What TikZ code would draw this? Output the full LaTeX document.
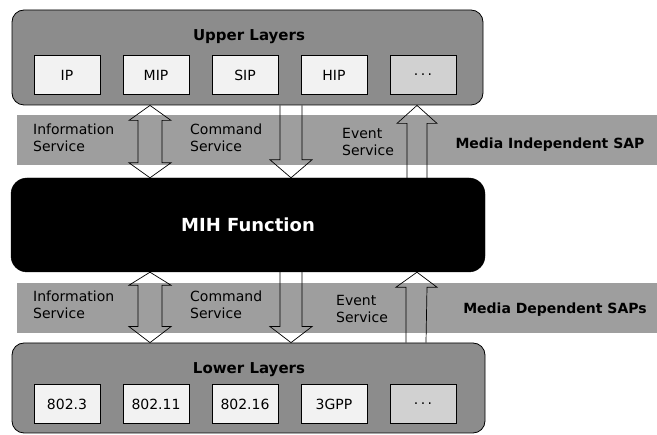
\documentclass[tikz,border=0pt]{standalone}
\usepackage{fontspec}
\setmainfont{DejaVu Sans}
\usetikzlibrary{calc,positioning}

\begin{document}
\begin{tikzpicture}[x=1pt,y=-1pt,node distance=89pt,
    layer/.style={draw,line width=0.8pt,rounded corners=12pt,fill=black!45},
    proto/.style={draw,line width=0.6pt,fill=black!5,minimum width=66pt,minimum height=39pt,
      font=\fontsize{14}{16}\selectfont},
    sap/.style={fill=black!38,minimum width=640pt,minimum height=50pt,inner sep=0pt},
    svc/.style={align=left,anchor=west,inner sep=0pt,font=\fontsize{14}{17}\selectfont},
    title/.style={font=\bfseries\fontsize{15}{18}\selectfont},
    saptitle/.style={font=\bfseries\fontsize{14}{16}\selectfont},
    blockarrow/.style={draw,line width=0.7pt}]
    \useasboundingbox (0,0) rectangle (657,435);

    \node (sapU) [sap] at (337,140) {};
    \node (sapL) [sap] at (337,308) {};

    \node (upper) [layer,minimum width=471pt,minimum height=95pt] at (247.5,57.5) {};
    \node (upperT) [title] at (249,37) {Upper Layers};
    \node (ip) [proto] at (67,75) {IP};
    \node (mip) [proto,right of=ip] {MIP};
    \node (sip) [proto,right of=mip] {SIP};
    \node (hip) [proto,right of=sip] {HIP};
    \node (more) [proto,right of=hip,fill=black!18] {.\,.\,.};

    \node (mih) [draw,fill=black,rounded corners=16pt,minimum width=474pt,minimum height=94pt,
      text=white,font=\bfseries\fontsize{18}{22}\selectfont] at (248,225) {MIH Function};

    \node (lower) [layer,minimum width=473pt,minimum height=90pt] at (248.5,388) {};
    \node (lowerT) [title] at (249,370) {Lower Layers};
    \node (e3) [proto] at (67,404) {802.3};
    \node (e11) [proto,right of=e3] {802.11};
    \node (e16) [proto,right of=e11] {802.16};
    \node (gpp) [proto,right of=e16] {3GPP};
    \node (etc) [proto,right of=gpp,fill=black!18] {.\,.\,.};

    \node (infoU) [svc] at (33,138) {Information\\Service};
    \node (cmdU) [svc] at (190,138) {Command\\Service};
    \node (evtU) [svc] at (342,142) {Event\\Service};
    \node (indep) [saptitle] at (550,145) {Media Independent SAP};
    \node (infoL) [svc] at (33,305) {Information\\Service};
    \node (cmdL) [svc] at (190,305) {Command\\Service};
    \node (evtL) [svc] at (336,309) {Event\\Service};
    \node (dep) [saptitle] at (555,310) {Media Dependent SAPs};

    \coordinate (colI) at (150,0);
    \coordinate (colC) at (291,0);
    \coordinate (colE) at (417,0);

    \draw[blockarrow] (colI |- upper.south) -- ++(21,15) -- ++(-9,0)
      -- ($(colI |- mih.north)+(12,-15)$) -- ++(9,0) -- (colI |- mih.north)
      -- ++(-21,-15) -- ++(9,0) -- ($(colI |- upper.south)+(-12,15)$) -- ++(-9,0) -- cycle;
    \draw[blockarrow] ($(colC |- upper.south)+(-11,0)$) -- ($(colC |- mih.north)+(-11,-18)$)
      -- ++(-10,0) -- (colC |- mih.north) -- ++(21,-18) -- ++(-10,0)
      -- ($(colC |- upper.south)+(11,0)$);
    \draw[blockarrow] ($(colE |- mih.north)+(-10,0)$) -- ($(colE |- upper.south)+(-10,18)$)
      -- ++(-10,0) -- (colE |- upper.south) -- ++(20,18) -- ++(-10,0)
      -- ($(colE |- mih.north)+(10,0)$);

    \draw[blockarrow] (colI |- mih.south) -- ++(21,13) -- ++(-9,0)
      -- ($(colI |- lower.north)+(12,-16)$) -- ++(9,0) -- (colI |- lower.north)
      -- ++(-21,-16) -- ++(9,0) -- ($(colI |- mih.south)+(-12,13)$) -- ++(-9,0) -- cycle;
    \draw[blockarrow] ($(colC |- mih.south)+(-11,0)$) -- ($(colC |- lower.north)+(-11,-16)$)
      -- ++(-10,0) -- (colC |- lower.north) -- ++(21,-16) -- ++(-10,0)
      -- ($(colC |- mih.south)+(11,0)$);
    \draw[blockarrow] ($(colE |- lower.north)+(-11,0)$) -- ($(colE |- mih.south)+(-11,15)$)
      -- ++(-10,0) -- (colE |- mih.south) -- ++(20,15) -- ++(-10,0)
      -- ($(colE |- lower.north)+(9,0)$);
\end{tikzpicture}
\end{document}
